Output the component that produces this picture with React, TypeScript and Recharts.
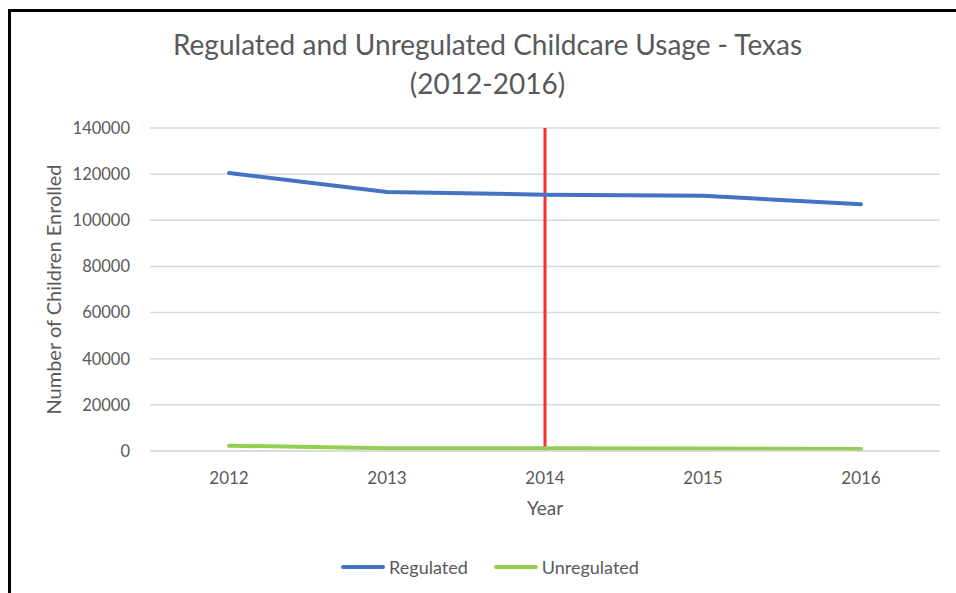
import React from 'react';
import { LineChart, Line, XAxis, YAxis, CartesianGrid, Legend, ReferenceLine } from 'recharts';

const years = ['2012', '2013', '2014', '2015', '2016'];
const regulated = [120500, 112300, 111100, 110600, 107000];
const unregulated = [2300, 1200, 1200, 1100, 900];
const yTicks = [0, 20000, 40000, 60000, 80000, 100000, 120000, 140000];
const markerYear = '2014';

const data = years.map((year, i) => ({
  year,
  Regulated: regulated[i],
  Unregulated: unregulated[i],
}));

const FONT = 'Lato, "Open Sans", sans-serif';
const TEXT = '#595959';

const YTitle = ({ viewBox }: any) => {
  const cx = 53;
  const cy = viewBox.y + viewBox.height / 2;
  return (
    <text
      x={cx}
      y={cy}
      transform={`rotate(-90 ${cx} ${cy})`}
      textAnchor="middle"
      dominantBaseline="central"
      fill={TEXT}
      fontSize={20}
      fontFamily={FONT}
    >
      Number of Children Enrolled
    </text>
  );
};

const LegendContent = ({ payload }: any) => (
  <div style={{ display: 'flex', justifyContent: 'center', gap: 26, paddingLeft: 40, fontFamily: FONT }}>
    {(payload || []).map((p: any) => (
      <div key={p.value} style={{ display: 'flex', alignItems: 'center', gap: 4 }}>
        <span style={{ width: 44, height: 4, borderRadius: 2, background: p.color, display: 'inline-block' }} />
        <span style={{ color: TEXT, fontSize: 18 }}>{p.value}</span>
      </div>
    ))}
  </div>
);

const App: React.FC = () => {
  return (
    <div style={{ position: 'absolute', left: 0, top: 0, width: 956, height: 593, background: '#fff' }}>
      <div
        style={{
          position: 'absolute',
          left: 8,
          top: 9,
          right: 0,
          bottom: 0,
          borderTop: '3px solid #000',
          borderLeft: '3px solid #000',
        }}
      />
      <div
        style={{
          position: 'absolute',
          left: 0,
          top: 25,
          width: 975,
          textAlign: 'center',
          fontFamily: FONT,
          fontSize: 28,
          lineHeight: '39px',
          color: TEXT,
        }}
      >
        Regulated and Unregulated Childcare Usage - Texas
        <br />
        (2012-2016)
      </div>
      <LineChart
        width={956}
        height={593}
        data={data}
        margin={{ top: 128, right: 16, left: 0, bottom: 7 }}
      >
        <CartesianGrid vertical={false} stroke="#d9d9d9" strokeWidth={1.5} />
        <XAxis
          dataKey="year"
          height={105}
          padding={{ left: 79, right: 79 }}
          axisLine={{ stroke: '#d9d9d9', strokeWidth: 1.5 }}
          tickLine={false}
          tick={{ fill: TEXT, fontSize: 17, fontFamily: FONT }}
          tickMargin={15}
          label={{ value: 'Year', position: 'insideTop', offset: 51, fill: TEXT, fontSize: 19, fontFamily: FONT }}
        />
        <YAxis
          width={150}
          domain={[0, 140000]}
          ticks={yTicks}
          axisLine={false}
          tickLine={false}
          tick={{ fill: TEXT, fontSize: 16.5, fontFamily: FONT }}
          tickMargin={14}
          label={<YTitle />}
        />
        <ReferenceLine x={markerYear} stroke="#ff2a2a" strokeWidth={3} />
        <Line
          type="linear"
          dataKey="Regulated"
          stroke="#4472c4"
          strokeWidth={4}
          strokeLinecap="round"
          dot={false}
          isAnimationActive={false}
        />
        <Line
          type="linear"
          dataKey="Unregulated"
          stroke="#92d050"
          strokeWidth={4}
          strokeLinecap="round"
          dot={false}
          isAnimationActive={false}
        />
        <Legend verticalAlign="bottom" height={30} content={<LegendContent />} />
      </LineChart>
    </div>
  );
};

export default App;
